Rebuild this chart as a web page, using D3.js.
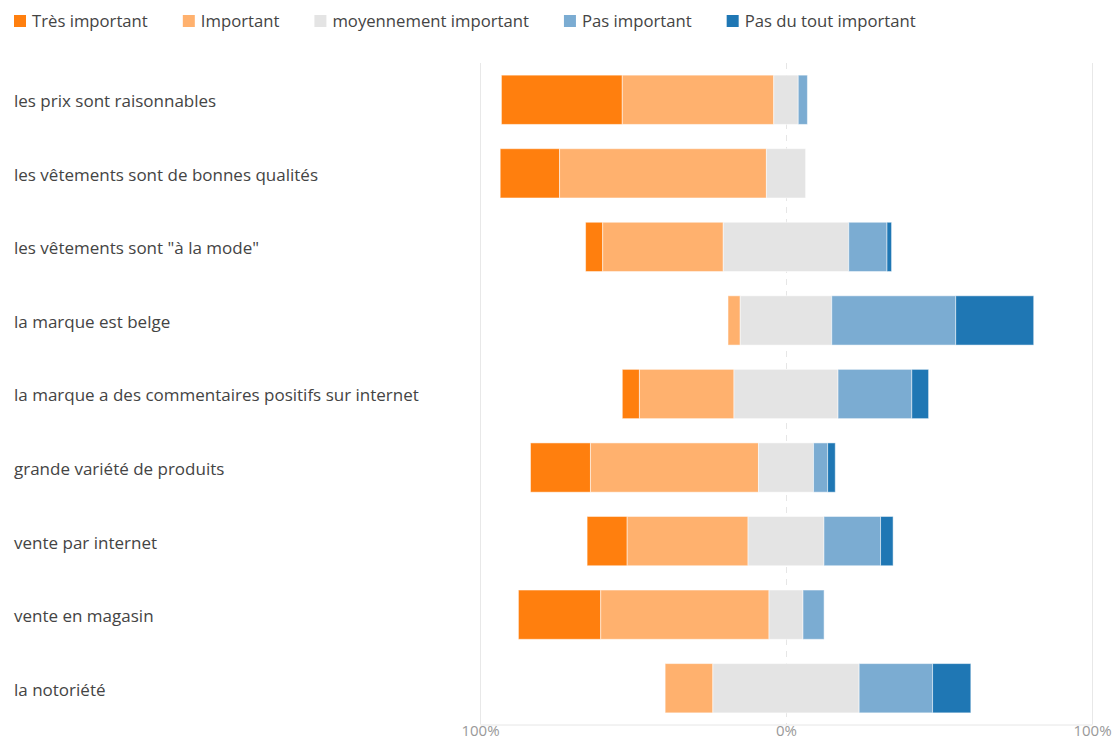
<!DOCTYPE html>
<html>
<head>
<meta charset="utf-8">
<script src="https://cdn.jsdelivr.net/npm/d3@7"></script>
<style>
  body { margin: 0; background: #fff; }
  text { font-family: "Segoe UI", "Open Sans", "Noto Sans", sans-serif; }
</style>
</head>
<body>
<div id="chart"></div>
<script>
// Questions (rows, top to bottom)
var questions = [
  "les prix sont raisonnables",
  "les vêtements sont de bonnes qualités",
  "les vêtements sont \"à la mode\"",
  "la marque est belge",
  "la marque a des commentaires positifs sur internet",
  "grande variété de produits",
  "vente par internet",
  "vente en magasin",
  "la notoriété"
];

// Answer levels
var levels = ["Très important", "Important", "moyennement important", "Pas important", "Pas du tout important"];
var colors = ["#ff7f0e", "#ffb16e", "#e4e4e4", "#7bacd2", "#1f77b4"];

// Percent of answers per level, one value per question
var tresImportant  = [39.5, 19.4,  5.6,  0.0,  5.6, 19.6, 13.1, 26.9,  0.0];
var important      = [49.5, 67.6, 39.4,  4.0, 30.9, 54.9, 39.5, 55.0, 15.6];
var moyennement    = [ 8.0, 12.8, 41.0, 29.9, 34.0, 18.0, 24.8, 11.1, 47.8];
var pasImportant   = [ 3.0,  0.0, 12.5, 40.5, 24.1,  4.6, 18.5,  6.9, 24.0];
var pasDuTout      = [ 0.0,  0.0,  1.5, 25.5,  5.5,  2.5,  4.1,  0.0, 12.5];

// Axis ticks
var tickValues = [-100, 0, 100];

var svgWidth = 1115;
var svgHeight = 740;

var svg = d3.select("#chart")
  .append("svg")
  .attr("width", svgWidth)
  .attr("height", svgHeight);

var series = [tresImportant, important, moyennement, pasImportant, pasDuTout];

// Build diverging segments: neutral level centred on 0
var segments = [];
questions.forEach(function(q, i) {
  var neg = tresImportant[i] + important[i] + moyennement[i] / 2;
  var start = -neg;
  series.forEach(function(s, k) {
    segments.push({ q: q, level: k, x0: start, x1: start + s[i] });
    start += s[i];
  });
});

var xScale = d3.scaleLinear()
  .domain([-100, 100])
  .range([480, 1092]);

var yScale = d3.scaleBand()
  .domain(questions)
  .range([63, 725])
  .paddingInner(0.33)
  .paddingOuter(0.165);

var axisY = 724.5;

// grid lines
svg.append("g")
  .selectAll("line")
  .data(tickValues)
  .enter()
  .append("line")
  .attr("x1", d => xScale(d) + 0.5)
  .attr("x2", d => xScale(d) + 0.5)
  .attr("y1", 63)
  .attr("y2", axisY)
  .attr("stroke", d => d === 0 ? "#e6e6e6" : "#e8e8e8")
  .attr("stroke-width", 1)
  .attr("stroke-dasharray", d => d === 0 ? "6,6" : null);

// bottom axis
var bottomAxis = d3.axisBottom(xScale)
  .tickValues(tickValues)
  .tickSize(0)
  .tickPadding(1)
  .tickFormat(d => Math.abs(d) + "%");

var axisG = svg.append("g")
  .attr("transform", `translate(0, ${axisY})`)
  .call(bottomAxis);

axisG.select(".domain")
  .attr("stroke", "#e6e6e6");

axisG.selectAll("text")
  .attr("fill", "#999")
  .attr("font-size", "15px")
  .style("font-family", "\"Segoe UI\", \"Open Sans\", sans-serif");

// bars
svg.append("g")
  .selectAll("rect")
  .data(segments.filter(d => d.x1 > d.x0))
  .enter()
  .append("rect")
  .attr("x", d => xScale(d.x0))
  .attr("width", d => xScale(d.x1) - xScale(d.x0))
  .attr("y", d => yScale(d.q))
  .attr("height", yScale.bandwidth())
  .attr("fill", d => colors[d.level])
  .attr("stroke", "#ffffff")
  .attr("stroke-opacity", 0.5)
  .attr("stroke-width", 1);

// row labels
svg.append("g")
  .selectAll("text")
  .data(questions)
  .enter()
  .append("text")
  .attr("x", 14)
  .attr("y", d => yScale(d) + yScale.bandwidth() / 2 + 1.5)
  .attr("dy", "0.35em")
  .attr("font-size", "17px")
  .attr("fill", "#444")
  .text(d => d);

// legend
var legend = svg.append("g");
var lx = 14;
levels.forEach(function(name, k) {
  legend.append("rect")
    .attr("x", lx)
    .attr("y", 15)
    .attr("width", 12)
    .attr("height", 12)
    .attr("fill", colors[k]);
  var t = legend.append("text")
    .attr("x", lx + 18)
    .attr("y", 21.5)
    .attr("dy", "0.35em")
    .attr("font-size", "16.7px")
    .attr("fill", "#444")
    .text(name);
  lx += 18 + t.node().getComputedTextLength() + 35;
});
</script>
</body>
</html>
